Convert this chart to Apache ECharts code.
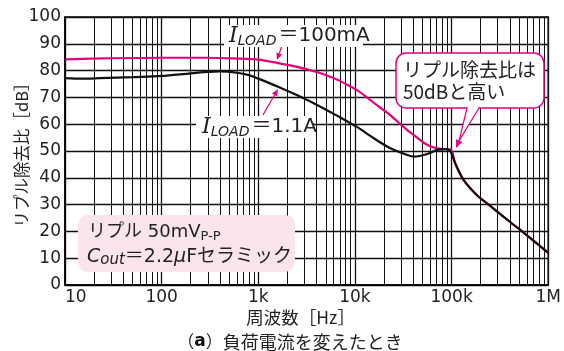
<!DOCTYPE html>
<html><head><meta charset="utf-8">
<script src="https://cdn.jsdelivr.net/npm/echarts@6/dist/echarts.min.js"></script>
<style>html,body{margin:0;padding:0;background:#fff}#c{width:564px;height:351px}</style>
</head><body><div id="c"></div>
<script>
// ---- data ----
const freqPink   = [10, 30, 100, 300, 600, 1000, 1600, 2600, 3300, 4200, 6700, 8400, 10700, 13500, 17000, 21700, 27500, 34800, 44000, 52000, 60000, 70800, 80000, 90000, 100000, 109000, 133000, 182000, 270000, 400000, 594000, 1000000];
const ripplePink = [84.2, 84.6, 84.8, 84.8, 84.5, 84.1, 82.8, 81.3, 80.3, 79.3, 76.5, 74.6, 72.5, 69.8, 67.0, 64.2, 61.0, 57.8, 55.0, 53.0, 51.8, 51.0, 50.7, 50.7, 50.2, 45.4, 39.2, 33.6, 28.6, 23.6, 18.7, 12.0];
const freqBlack   = [10, 15, 23, 50, 100, 200, 300, 400, 600, 800, 1000, 1600, 2600, 4150, 6660, 10700, 13500, 21700, 34800, 41000, 56000, 70800, 83000, 96000, 109000, 133000, 182000, 270000, 400000, 594000, 1000000];
const rippleBlack = [77.2, 77.0, 77.2, 77.6, 78.0, 79.0, 79.5, 79.7, 79.2, 78.3, 77.0, 74.0, 70.6, 67.0, 63.0, 58.8, 56.3, 51.6, 48.5, 47.9, 48.9, 50.4, 50.7, 50.2, 45.4, 39.2, 33.6, 28.6, 23.6, 18.7, 12.0];
const xTickLabels = ['10', '100', '1k', '10k', '100k', '1M'];
const yMin = 0, yMax = 100, yStep = 10;
const minorMultipliers = [2, 3, 4, 5, 6, 7, 8, 9];
const decades = [10, 100, 1000, 10000, 100000];

const FONT = '"DejaVu Sans", "Noto Sans CJK JP", sans-serif';
const JFONT = '"Noto Sans CJK JP", sans-serif';
const PINK = '#e4007f';
const TXT = '#222';

const minorX = [];
decades.forEach(d => minorMultipliers.forEach(m => minorX.push({ xAxis: d * m })));

const chart = echarts.init(document.getElementById('c'), null, { renderer: 'canvas' });

function arrowHead(tip, from, len, half) {
  const dx = tip[0] - from[0], dy = tip[1] - from[1];
  const L = Math.hypot(dx, dy), ux = dx / L, uy = dy / L;
  const bx = tip[0] - len * ux, by = tip[1] - len * uy;
  return { points: [tip, [bx + half * uy, by - half * ux], [bx - half * uy, by + half * ux]], back: [bx, by] };
}
const a1 = arrowHead([277, 60], [281.5, 47], 7, 3);
const a2 = arrowHead([278, 89], [263, 115], 7, 3);
const a3 = arrowHead([456, 148], [473, 108], 8, 3.5);

chart.setOption({
  animation: false,
  backgroundColor: '#fff',
  grid: { left: 65, right: 12, top: 17, bottom: 66, show: true, borderColor: '#000', borderWidth: 1.5, backgroundColor: '#fff' },
  xAxis: {
    type: 'log', logBase: 10, min: 10, max: 1e6, splitNumber: 5,
    axisLine: { show: true, lineStyle: { color: '#000', width: 1.5 } },
    axisTick: { show: false },
    axisLabel: {
      formatter: v => xTickLabels[Math.round(Math.log10(v)) - 1] || '',
      fontSize: 17, color: TXT, margin: 4, fontFamily: FONT, alignMinLabel: 'left'
    },
    splitLine: { show: true, lineStyle: { color: '#111', width: 1.3 } },
    name: '周波数［Hz］', nameLocation: 'middle', nameGap: 24, nameMoveOverlap: false,
    nameTextStyle: { fontSize: 17.5, fontFamily: JFONT, color: TXT, padding: [0, 12, 0, 0] }
  },
  yAxis: {
    type: 'value', min: yMin, max: yMax, interval: yStep,
    axisLine: { show: true, lineStyle: { color: '#000', width: 1.5 } },
    axisTick: { show: false },
    axisLabel: { fontSize: 17, color: TXT, margin: 4, fontFamily: FONT },
    splitLine: { show: true, lineStyle: { color: '#111', width: 1.3 } },
    name: 'リプル除去比［dB］', nameLocation: 'middle', nameGap: 35, nameRotate: 90, nameMoveOverlap: false,
    nameTextStyle: { fontSize: 16.5, fontFamily: JFONT, color: TXT }
  },
  series: [
    {
      name: 'ILOAD=100mA', type: 'line', symbol: 'none', smooth: 0.3, z: 3,
      data: freqPink.map((f, i) => [f, ripplePink[i]]),
      lineStyle: { color: PINK, width: 2.2 }
    },
    {
      name: 'ILOAD=1.1A', type: 'line', symbol: 'none', smooth: 0.3, z: 4,
      data: freqBlack.map((f, i) => [f, rippleBlack[i]]),
      lineStyle: { color: '#111', width: 2.2 },
      markLine: {
        silent: true, symbol: ['none', 'none'], label: { show: false }, z: 1,
        lineStyle: { color: '#111', width: 1, type: 'solid' },
        emphasis: { disabled: true },
        data: minorX
      }
    }
  ],
  graphic: [
    // I_LOAD = 100mA label
    { type: 'rect', z: 100, shape: { x: 224, y: 25, width: 139, height: 22 }, style: { fill: '#fff' } },
    { type: 'text', z: 101, x: 229, y: 36, style: {
        text: '{i|I}{s|LOAD}{n|＝100mA}', verticalAlign: 'middle', align: 'left',
        rich: {
          i: { fontSize: 22, fontStyle: 'italic', fontFamily: '"DejaVu Serif", serif', fill: TXT, lineHeight: 24 },
          s: { fontSize: 14, fontStyle: 'italic', fontFamily: FONT, fill: TXT, lineHeight: 14, verticalAlign: 'bottom', padding: [0, 2, 0, 0] },
          n: { fontSize: 20, fontFamily: FONT, fill: TXT, lineHeight: 24 }
        } } },
    // I_LOAD = 1.1A label
    { type: 'rect', z: 100, shape: { x: 196, y: 116, width: 117, height: 22 }, style: { fill: '#fff' } },
    { type: 'text', z: 101, x: 202, y: 127, style: {
        text: '{i|I}{s|LOAD}{n|＝1.1A}', verticalAlign: 'middle', align: 'left',
        rich: {
          i: { fontSize: 22, fontStyle: 'italic', fontFamily: '"DejaVu Serif", serif', fill: TXT, lineHeight: 24 },
          s: { fontSize: 14, fontStyle: 'italic', fontFamily: FONT, fill: TXT, lineHeight: 14, verticalAlign: 'bottom', padding: [0, 2, 0, 0] },
          n: { fontSize: 20, fontFamily: FONT, fill: TXT, lineHeight: 24 }
        } } },
    // arrows
    { type: 'line', z: 102, shape: { x1: 281.5, y1: 47, x2: a1.back[0], y2: a1.back[1] }, style: { stroke: PINK, lineWidth: 1.2 } },
    { type: 'polygon', z: 102, shape: { points: a1.points }, style: { fill: PINK } },
    { type: 'line', z: 102, shape: { x1: 263, y1: 115, x2: a2.back[0], y2: a2.back[1] }, style: { stroke: PINK, lineWidth: 1.2 } },
    { type: 'polygon', z: 102, shape: { points: a2.points }, style: { fill: PINK } },
    // callout
    { type: 'rect', z: 100, shape: { x: 396, y: 53, width: 148, height: 55, r: 10 }, style: { fill: '#fff', stroke: PINK, lineWidth: 1.5 } },
    { type: 'polyline', z: 101, shape: { points: [[467, 108], a3.back, [479, 108]] }, style: { stroke: PINK, lineWidth: 1.2, fill: '#fff' } },
    { type: 'line', z: 101, shape: { x1: 468, y1: 108, x2: 478, y2: 108 }, style: { stroke: '#fff', lineWidth: 2.2 } },
    { type: 'polygon', z: 102, shape: { points: a3.points }, style: { fill: PINK } },
    { type: 'text', z: 103, x: 403, y: 81, style: {
        text: 'リプル除去比は\n50dBと高い', align: 'left', verticalAlign: 'middle',
        fontSize: 19, fontFamily: JFONT, fill: TXT, lineHeight: 22 } },
    // condition box
    { type: 'rect', z: 100, shape: { x: 78, y: 215, width: 217, height: 57, r: 10 }, style: { fill: '#fce4ec' } },
    { type: 'text', z: 101, x: 88, y: 232, style: {
        text: '{t|リプル 50mV}{s|P-P}', align: 'left', verticalAlign: 'middle',
        rich: {
          t: { fontSize: 18, fontFamily: FONT, fill: TXT, lineHeight: 22 },
          s: { fontSize: 13, fontFamily: FONT, fill: TXT, lineHeight: 15, verticalAlign: 'bottom' }
        } } },
    { type: 'text', z: 101, x: 87, y: 257, style: {
        text: '{c|C}{o|out}{t|＝2.2}{m|μ}{t|Fセラミック}', align: 'left', verticalAlign: 'middle',
        rich: {
          c: { fontSize: 19, fontStyle: 'italic', fontFamily: FONT, fill: TXT, lineHeight: 22 },
          o: { fontSize: 15, fontStyle: 'italic', fontFamily: FONT, fill: TXT, lineHeight: 18, verticalAlign: 'bottom' },
          t: { fontSize: 19, fontFamily: FONT, fill: TXT, lineHeight: 22 },
          m: { fontSize: 19, fontStyle: 'italic', fontFamily: FONT, fill: TXT, lineHeight: 22 }
        } } },
    // caption
    { type: 'text', z: 101, x: 290, y: 342, style: {
        text: '{p|（}{b|a}{p|）}{t|負荷電流を変えたとき}', align: 'center', verticalAlign: 'middle',
        rich: {
          p: { fontSize: 17, fontFamily: JFONT, fill: TXT },
          b: { fontSize: 17, fontWeight: 'bold', fontFamily: FONT, fill: '#111' },
          t: { fontSize: 18, fontFamily: JFONT, fill: TXT }
        } } }
  ]
});
</script></body></html>
